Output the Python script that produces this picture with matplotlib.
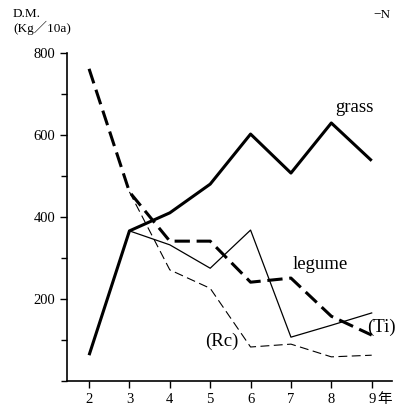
import matplotlib
matplotlib.use('Agg')
import matplotlib.pyplot as plt
from matplotlib.ticker import MultipleLocator
from matplotlib.transforms import offset_copy

plt.rcParams['font.family'] = ['Liberation Serif', 'Noto Sans CJK JP']

years = [2, 3, 4, 5, 6, 7, 8, 9]
grass = [63, 366, 410, 480, 602, 507, 629, 537]
legume = [761, 461, 341, 341, 241, 251, 158, 112]

years_sub = [3, 4, 5, 6, 7, 8, 9]
ti = [366, 332, 275, 368, 107, 136, 166]
rc = [461, 271, 226, 83, 90, 59, 63]

xlabels = ['2', '3', '4', '5', '6', '7', '8', '9']
year_unit = '年'

fig = plt.figure(figsize=(4.04, 4.16), dpi=100)
ax = fig.add_axes([0.166, 0.084, 0.804, 0.789])

ax.plot(years, grass, color='black', lw=2.2, solid_capstyle='butt')
ax.plot(years, legume, color='black', lw=2.2, dashes=(5, 2.2))
ax.plot(years_sub, ti, color='black', lw=0.9)
ax.plot(years_sub, rc, color='black', lw=0.8, dashes=(8, 4))

ax.set_xlim(1.455, 9.5)
ax.set_ylim(0, 800)
ax.set_xticks(years)
ax.set_xticklabels(xlabels)
ax.yaxis.set_major_locator(MultipleLocator(200))
ax.yaxis.set_minor_locator(MultipleLocator(100))
ax.set_yticks([200, 400, 600, 800])

for s in ['top', 'right']:
    ax.spines[s].set_visible(False)
for s in ['left', 'bottom']:
    ax.spines[s].set_linewidth(1.2)

ax.tick_params(axis='both', which='major', length=5, width=1, labelsize=10.5)
ax.tick_params(axis='y', which='minor', length=4, width=1)
ax.tick_params(axis='x', which='minor', length=0)

# unit after the last year label
trans = offset_copy(ax.get_xaxis_transform(), fig=fig, x=4, y=-8.5, units='points')
ax.text(years[-1], 0, year_unit, transform=trans, fontsize=10.5, ha='left', va='top')

fig.text(0.032, 0.966, 'D.M.', fontsize=9.5, va='center')
fig.text(0.032, 0.933, '(Kg／10a)', fontsize=9.5, va='center')
fig.text(0.923, 0.964, '−N', fontsize=9.5, va='center')

ax.text(8.09, 666, 'grass', fontsize=13.5, va='center')
ax.text(7.05, 283, 'legume', fontsize=13.5, va='center')
ax.text(8.88, 132, '(Ti)', fontsize=13.5, va='center')
ax.text(4.87, 98, '(Rc)', fontsize=13.5, va='center')

plt.savefig('out.png', dpi=100)
plt.close()
